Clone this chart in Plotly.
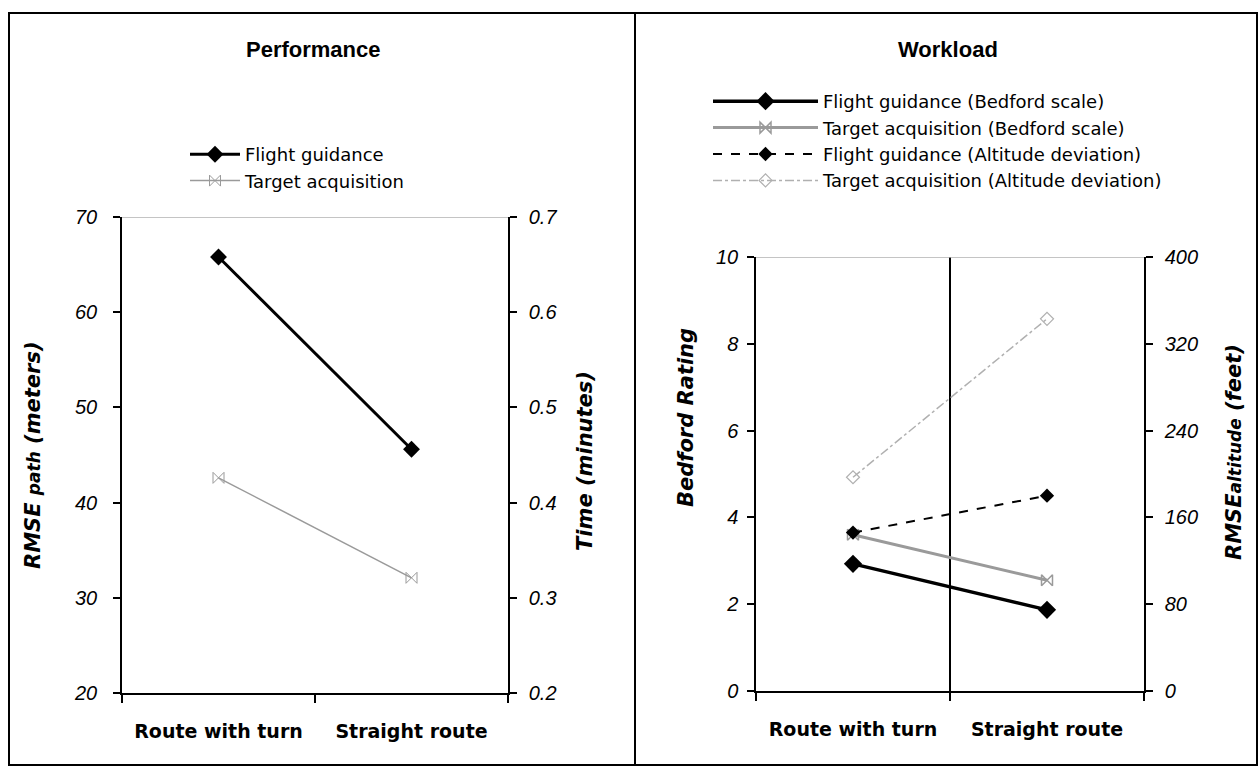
import plotly.graph_objects as go

W, H = 1260, 768

categories = ["Route with turn", "Straight route"]

# Performance panel
perf_flight_rmse = [65.8, 45.6]        # RMSE path (meters), left axis
perf_target_time = [0.426, 0.321]      # Time (minutes), right axis

# Workload panel
wl_flight_bedford = [2.93, 1.87]       # Bedford rating, left axis
wl_target_bedford = [3.6, 2.55]
wl_flight_alt = [146, 180]             # RMSE altitude (feet), right axis
wl_target_alt = [197, 343]

perf_left_ticks = [20, 30, 40, 50, 60, 70]
perf_right_ticks = [0.2, 0.3, 0.4, 0.5, 0.6, 0.7]
wl_left_ticks = [0, 2, 4, 6, 8, 10]
wl_right_ticks = [0, 80, 160, 240, 320, 400]

def px(x):
    return x / W

def py(y):
    return 1 - y / H

BLACK = "#000000"
GREY = "#9a9a9a"
LGREY = "#b0b0b0"

fig = go.Figure()

# ---- Performance traces
fig.add_trace(go.Scatter(
    x=categories, y=perf_flight_rmse, name="Flight guidance",
    mode="lines+markers", xaxis="x", yaxis="y", legend="legend",
    line=dict(color=BLACK, width=3),
    marker=dict(symbol="diamond", size=13, color=BLACK)))
fig.add_trace(go.Scatter(
    x=categories, y=perf_target_time, name="Target acquisition",
    mode="lines+markers", xaxis="x", yaxis="y2", legend="legend",
    line=dict(color=GREY, width=1.5),
    marker=dict(symbol="bowtie-open", size=11, color=GREY, line=dict(width=1, color=GREY))))

# ---- Workload traces
fig.add_trace(go.Scatter(
    x=categories, y=wl_flight_bedford, name="Flight guidance (Bedford scale)",
    mode="lines+markers", xaxis="x3", yaxis="y3", legend="legend2",
    line=dict(color=BLACK, width=3.5),
    marker=dict(symbol="diamond", size=14, color=BLACK)))
fig.add_trace(go.Scatter(
    x=categories, y=wl_target_bedford, name="Target acquisition (Bedford scale)",
    mode="lines+markers", xaxis="x3", yaxis="y3", legend="legend2",
    line=dict(color=GREY, width=3),
    marker=dict(symbol="bowtie-open", size=11, color=GREY, line=dict(width=1.5, color=GREY))))
fig.add_trace(go.Scatter(
    x=categories, y=wl_flight_alt, name="Flight guidance (Altitude deviation)",
    mode="lines+markers", xaxis="x3", yaxis="y4", legend="legend2",
    line=dict(color=BLACK, width=2, dash="dash"),
    marker=dict(symbol="diamond", size=11, color=BLACK)))
fig.add_trace(go.Scatter(
    x=categories, y=wl_target_alt, name="Target acquisition (Altitude deviation)",
    mode="lines+markers", xaxis="x3", yaxis="y4", legend="legend2",
    line=dict(color=LGREY, width=1.5, dash="dashdot"),
    marker=dict(symbol="diamond-open", size=10, color=LGREY, line=dict(width=1.2, color=LGREY))))

tickfont = dict(family="Liberation Sans, Arial", size=20, color=BLACK, style="italic")
catfont = dict(family="DejaVu Sans", size=19, color=BLACK, weight="bold")

xcommon = dict(type="category", range=[-0.5, 1.5], tickson="boundaries",
               ticks="outside", ticklen=8, tickwidth=1.5, tickcolor=BLACK,
               showline=True, linecolor=BLACK, linewidth=1.5,
               tickfont=catfont, ticklabelstandoff=20, zeroline=False,
               automargin=False, fixedrange=True)
ycommon = dict(ticks="outside", ticklen=7, tickwidth=1.5, tickcolor=BLACK,
               showline=True, linecolor=BLACK, linewidth=1.5, showgrid=False,
               zeroline=False, tickfont=tickfont, automargin=False, fixedrange=True)

L_DOM_X = [px(122), px(508)]
L_DOM_Y = [py(693), py(217)]
R_DOM_X = [px(756), px(1144)]
R_DOM_Y = [py(691), py(257)]

legfont = dict(family="DejaVu Sans", size=18, color=BLACK)

fig.update_layout(
    width=W, height=H,
    margin=dict(l=0, r=0, t=0, b=0),
    paper_bgcolor="white", plot_bgcolor="rgba(0,0,0,0)",
    xaxis=dict(domain=L_DOM_X, anchor="y", showgrid=False, **xcommon),
    yaxis=dict(domain=L_DOM_Y, anchor="x", range=[20, 70], tickvals=perf_left_ticks,
               ticklabelstandoff=12, **ycommon),
    yaxis2=dict(domain=L_DOM_Y, anchor="x", overlaying="y", side="right",
                range=[0.2, 0.7], tickvals=perf_right_ticks, tickformat=".1f",
                ticklabelstandoff=8, **ycommon),
    xaxis3=dict(domain=R_DOM_X, anchor="y3", showgrid=True, gridcolor=BLACK,
                gridwidth=1.5, **xcommon),
    yaxis3=dict(domain=R_DOM_Y, anchor="x3", range=[0, 10], tickvals=wl_left_ticks,
                ticklabelstandoff=5, **ycommon),
    yaxis4=dict(domain=R_DOM_Y, anchor="x3", overlaying="y3", side="right",
                range=[0, 400], tickvals=wl_right_ticks, ticklabelstandoff=8, **ycommon),
    showlegend=True,
    legend=dict(x=px(185), y=py(136), xanchor="left", yanchor="top",
                bgcolor="rgba(0,0,0,0)", borderwidth=0, itemwidth=50,
                font=legfont, itemclick=False, itemdoubleclick=False),
    legend2=dict(x=px(708), y=py(83), xanchor="left", yanchor="top",
                 bgcolor="rgba(0,0,0,0)", borderwidth=0, itemwidth=105,
                 font=legfont, itemclick=False, itemdoubleclick=False),
)

shapes = [
    # panel frames
    dict(type="rect", xref="paper", yref="paper", x0=px(9), x1=px(1257), y0=py(765), y1=py(13),
         line=dict(color=BLACK, width=2)),
    dict(type="line", xref="paper", yref="paper", x0=px(635), x1=px(635), y0=py(765), y1=py(13),
         line=dict(color=BLACK, width=2)),
    # grey top lines of plot areas
    dict(type="line", xref="x domain", yref="y", x0=0, x1=1, y0=70, y1=70,
         line=dict(color=LGREY, width=1.5)),
    dict(type="line", xref="x3 domain", yref="y3", x0=0, x1=1, y0=10, y1=10,
         line=dict(color=LGREY, width=1.5)),
]
fig.update_layout(shapes=shapes)

titlefont = dict(family="Liberation Sans, Arial", size=22, color=BLACK, weight="bold")
axtitle = dict(family="DejaVu Sans", size=21, color=BLACK, style="italic", weight="bold")

def ann(text, x, y, font, angle=0):
    return dict(text=text, x=px(x), y=py(y), xref="paper", yref="paper",
                xanchor="center", yanchor="middle", showarrow=False,
                textangle=angle, font=font)

annotations = [
    ann("Performance", 313, 50, titlefont),
    ann("Workload", 948, 50, titlefont),
    ann("RMSE <span style='font-size:17px'>path</span> (meters)", 33, 455, axtitle, -90),
    ann("Time (minutes)", 585, 461, axtitle, -90),
    ann("Bedford Rating", 686, 417, axtitle, -90),
    ann("RMSE<span style='font-size:17px'>altitude</span> (feet)", 1234, 452, axtitle, -90),
]
fig.update_layout(annotations=annotations)

fig.write_html("out.html", config={"displayModeBar": False},
               post_script="document.body.style.margin='0';")
